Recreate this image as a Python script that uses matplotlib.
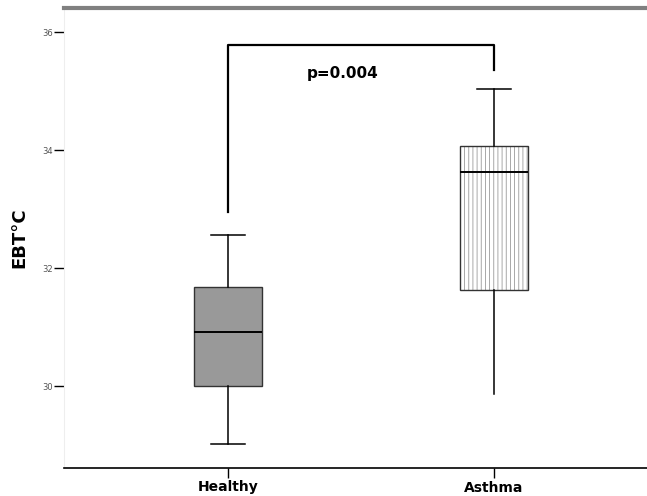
import matplotlib
matplotlib.use("Agg")
import matplotlib.pyplot as plt
from matplotlib.colors import to_rgba

# Data
categories = ["Healthy", "Asthma"]
whisker_low = [29.02, 29.86]
q1 = [30.0, 31.63]
median = [30.92, 33.63]
q3 = [31.68, 34.07]
whisker_high = [32.56, 35.03]
yticks = [30, 32, 34, 36]
p_text = "p=0.004"
bracket_low = [32.95, 35.36]
bracket_top = 35.78

plt.rcParams["hatch.linewidth"] = 0.6

fig = plt.figure(figsize=(6.47, 4.96), dpi=100)
ax = fig.add_axes([64/647, 28/496, 583/647, 460/496])

stats = []
for i, c in enumerate(categories):
    stats.append(dict(label=c, whislo=whisker_low[i], q1=q1[i], med=median[i],
                      q3=q3[i], whishi=whisker_high[i], fliers=[]))
positions = [1, 2]
bp = ax.bxp(stats, positions=positions, widths=0.255, patch_artist=True,
            showfliers=False,
            medianprops=dict(color="black", linewidth=1.4),
            whiskerprops=dict(color="black", linewidth=1.1),
            capprops=dict(color="black", linewidth=1.1),
            boxprops=dict(linewidth=1.0))
bp["boxes"][0].set_facecolor("#999999")
bp["boxes"][0].set_edgecolor("#333333")
bp["boxes"][1].set_facecolor("white")
bp["boxes"][1].set_edgecolor("#333333")
bp["boxes"][1].set_hatch("||||::")
bp["boxes"][1]._hatch_color = to_rgba("#9a9a9a")
# asthma lower whisker has no cap
bp["caps"][2].set_visible(False)

# significance bracket
ax.plot([positions[0], positions[0], positions[1], positions[1]],
        [bracket_low[0], bracket_top, bracket_top, bracket_low[1]],
        color="black", linewidth=1.6)
ax.text(1.43, 35.3, p_text, fontsize=11, fontweight="bold", ha="center", va="center")

ax.set_xlim(0.383, 2.575)
ax.set_ylim(28.61, 36.41)
ax.set_yticks(yticks)
ax.set_yticklabels([str(t) for t in yticks], fontsize=6, color="#555555")
ax.tick_params(axis="y", length=7, width=1, color="black", pad=1)
ax.tick_params(axis="x", length=7, width=1, labelsize=10, pad=2)
ax.set_xticks(positions)
ax.set_xticklabels(categories, fontsize=10, fontweight="bold")
ax.set_ylabel("EBT°C", fontsize=13, fontweight="bold")
ax.yaxis.set_label_coords(-36/583, 0.5)

ax.spines["left"].set_color("#eeeeee")
ax.spines["right"].set_visible(False)
ax.spines["top"].set_color("#808080")
ax.spines["top"].set_linewidth(3)
ax.spines["bottom"].set_linewidth(1.2)

fig.savefig("out.png", dpi=100)
